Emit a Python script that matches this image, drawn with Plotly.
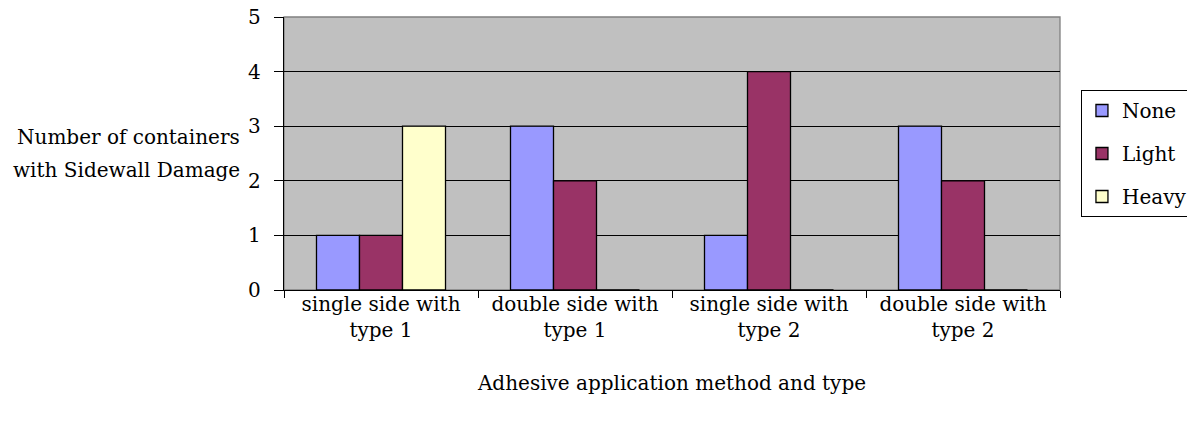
import plotly.graph_objects as go

categories = ["single side with<br>type 1", "double side with<br>type 1",
              "single side with<br>type 2", "double side with<br>type 2"]
none_vals = [1, 3, 1, 3]
light_vals = [1, 2, 4, 2]
heavy_vals = [3, 0, 0, 0]
y_ticks = [0, 1, 2, 3, 4, 5]

FONT = "DejaVu Serif"
FS = 20
fig = go.Figure()
for i, (name, vals, color) in enumerate([
        ("None", none_vals, "#9999FF"),
        ("Light", light_vals, "#993366"),
        ("Heavy", heavy_vals, "#FFFFCC")]):
    fig.add_trace(go.Bar(x=categories, y=vals, name=name, legendgroup=name,
                         marker=dict(color=color, line=dict(color="black", width=1.3))))

fig.update_layout(
    width=1187, height=425,
    margin=dict(l=284, r=127, t=17, b=135, autoexpand=False),
    paper_bgcolor="white", plot_bgcolor="#C0C0C0",
    barmode="group", bargap=0.335, bargroupgap=0,
    font=dict(family=FONT, size=FS, color="black"),
    showlegend=True,
    legend=dict(x=1.027, xanchor="left", y=0.5, yanchor="middle",
                bordercolor="black", borderwidth=1, bgcolor="white",
                itemwidth=30, tracegroupgap=14, font=dict(family=FONT, size=FS)),
    xaxis=dict(showgrid=False, showline=True, linecolor="black", linewidth=1.3,
               ticks="outside", tickson="boundaries", ticklen=7, tickcolor="black",
               ticklabelstandoff=-4,
               title=dict(text="Adhesive application method and type", standoff=34,
                          font=dict(family=FONT, size=FS)),
               tickfont=dict(family=FONT, size=FS)),
    yaxis=dict(range=[0, 5], tickvals=y_ticks, showgrid=True, gridcolor="black", gridwidth=1.3,
               showline=True, linecolor="black", linewidth=1.3, ticks="outside",
               ticklen=9, tickcolor="black", zeroline=False, ticklabelstandoff=9,
               ticklabeloverflow="allow",
               tickfont=dict(family=FONT, size=FS)),
)
fig.add_shape(type="rect", xref="paper", yref="paper", x0=0, x1=1, y0=0, y1=1,
              line=dict(color="#808080", width=1.3), layer="below")
fig.add_annotation(text="Number of containers", xref="paper", yref="paper",
                   x=-0.054, xanchor="right", y=0.56, yanchor="middle", showarrow=False,
                   font=dict(family=FONT, size=FS))
fig.add_annotation(text="with Sidewall Damage", xref="paper", yref="paper",
                   x=-0.054, xanchor="right", y=0.44, yanchor="middle", showarrow=False,
                   font=dict(family=FONT, size=FS))
# remove the browser's default 8px body margin so the figure fills the window exactly
fig.write_html("out.html", config={"displayModeBar": False},
               post_script="document.body.style.margin='0px';")
